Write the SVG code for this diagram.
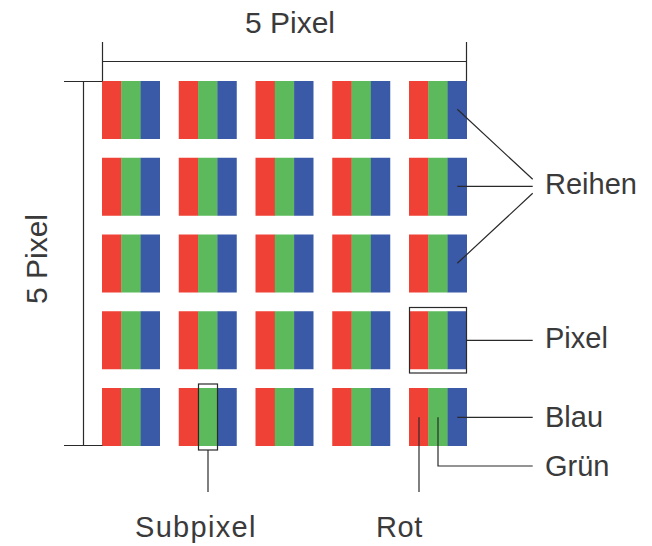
<svg xmlns="http://www.w3.org/2000/svg" xmlns:xlink="http://www.w3.org/1999/xlink" width="652" height="546" viewBox="0 0 652 546">
<style>
.r{fill:#EF4136}.g{fill:#5CBA5C}.b{fill:#3A59A7}
.ln{stroke:#2a2a2a;stroke-width:1.2;fill:none}
.t{font-family:"Liberation Sans",Arial,sans-serif;font-size:29px;fill:#3a3a3a}
</style>
<defs>
<g id="px">
<rect class="r" x="0" y="0" width="19.6" height="58"/>
<rect class="g" x="19.3" y="0" width="19.6" height="58"/>
<rect class="b" x="38.6" y="0" width="19.4" height="58"/>
</g>
</defs>
<rect width="652" height="546" fill="#fff"/>
<g id="grid">
<g id="row1">
<use xlink:href="#px" x="102" y="81"/><use xlink:href="#px" x="178.75" y="81"/><use xlink:href="#px" x="255.5" y="81"/><use xlink:href="#px" x="332.25" y="81"/><use xlink:href="#px" x="409" y="81"/>
</g>
<g id="row2">
<use xlink:href="#px" x="102" y="157.75"/><use xlink:href="#px" x="178.75" y="157.75"/><use xlink:href="#px" x="255.5" y="157.75"/><use xlink:href="#px" x="332.25" y="157.75"/><use xlink:href="#px" x="409" y="157.75"/>
</g>
<g id="row3">
<use xlink:href="#px" x="102" y="234.5"/><use xlink:href="#px" x="178.75" y="234.5"/><use xlink:href="#px" x="255.5" y="234.5"/><use xlink:href="#px" x="332.25" y="234.5"/><use xlink:href="#px" x="409" y="234.5"/>
</g>
<g id="row4">
<use xlink:href="#px" x="102" y="311.25"/><use xlink:href="#px" x="178.75" y="311.25"/><use xlink:href="#px" x="255.5" y="311.25"/><use xlink:href="#px" x="332.25" y="311.25"/><use xlink:href="#px" x="409" y="311.25"/>
</g>
<g id="row5">
<use xlink:href="#px" x="102" y="388"/><use xlink:href="#px" x="178.75" y="388"/><use xlink:href="#px" x="255.5" y="388"/><use xlink:href="#px" x="332.25" y="388"/><use xlink:href="#px" x="409" y="388"/>
</g>
</g>
<g id="dim-top">
<path class="ln" d="M102.5 42V81M466.5 42V81M102.5 61.5H466.5"/>
<text class="t" x="290" y="33" text-anchor="middle" style="font-size:30px">5 Pixel</text>
</g>
<g id="dim-left">
<path class="ln" d="M64 81.5H102.5M64 445.5H102.5M83.5 81.5V445.5"/>
<text class="t" transform="translate(46.5 259) rotate(-90)" text-anchor="middle" style="font-size:30px">5 Pixel</text>
</g>
<g id="markers">
<rect class="ln" x="409.5" y="307.5" width="57" height="65.5"/>
<rect class="ln" x="198.5" y="384" width="19" height="66"/>
</g>
<g id="connectors">
<path class="ln" d="M457.3 109.3L532.7 179.3M457.3 186.3H532.7M457.3 263.3L532.7 193.3"/>
<path class="ln" d="M466.5 340.3H532.7"/>
<path class="ln" d="M457.3 417.3H532.7"/>
<path class="ln" d="M438 417.3V466H532.7"/>
<path class="ln" d="M419 417.3V492"/>
<path class="ln" d="M208 450V492"/>
</g>
<g id="label-reihen"><text class="t" x="545" y="194">Reihen</text></g>
<g id="label-pixel"><text class="t" x="545" y="348">Pixel</text></g>
<g id="label-blau"><text class="t" x="545" y="427">Blau</text></g>
<g id="label-gruen"><text class="t" x="545" y="476">Grün</text></g>
<g id="label-subpixel"><text class="t" x="135" y="537" style="letter-spacing:1.3px">Subpixel</text></g>
<g id="label-rot"><text class="t" x="376" y="537" style="letter-spacing:0.6px">Rot</text></g>
</svg>
